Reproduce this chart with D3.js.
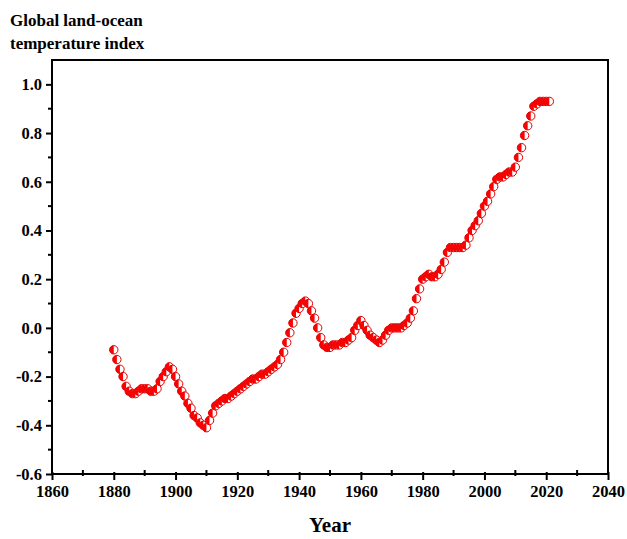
<!DOCTYPE html>
<html>
<head>
<meta charset="utf-8">
<script src="https://cdn.jsdelivr.net/npm/d3@7"></script>
<style>
  body { margin: 0; background: #fff; }
  svg text { font-family: "Liberation Serif", "Times New Roman", serif; font-weight: bold; }
</style>
</head>
<body>
<svg id="chart" width="627" height="539"></svg>
<script>
// annual index, 1880..2021
var years = d3.range(1880, 2022);
var temps = [
  -0.09,-0.13,-0.17,-0.20,-0.24,-0.26,-0.27,-0.27,-0.26,-0.25,
  -0.25,-0.25,-0.26,-0.26,-0.25,-0.22,-0.20,-0.18,-0.16,-0.17,
  -0.20,-0.23,-0.26,-0.28,-0.31,-0.33,-0.36,-0.37,-0.39,-0.40,
  -0.41,-0.38,-0.35,-0.32,-0.31,-0.30,-0.29,-0.29,-0.28,-0.27,
  -0.26,-0.25,-0.24,-0.23,-0.22,-0.21,-0.21,-0.20,-0.19,-0.19,
  -0.18,-0.17,-0.16,-0.15,-0.13,-0.10,-0.06,-0.02,0.02,0.06,
  0.08,0.10,0.11,0.10,0.07,0.04,0.00,-0.04,-0.07,-0.08,
  -0.08,-0.07,-0.07,-0.07,-0.06,-0.06,-0.05,-0.04,-0.01,0.01,
  0.03,0.01,-0.01,-0.03,-0.04,-0.05,-0.06,-0.05,-0.03,-0.01,
  0.00,0.00,0.00,0.00,0.01,0.02,0.04,0.07,0.12,0.16,
  0.20,0.21,0.22,0.21,0.21,0.22,0.24,0.27,0.31,0.33,
  0.33,0.33,0.33,0.33,0.34,0.37,0.40,0.42,0.44,0.47,
  0.50,0.52,0.55,0.58,0.61,0.62,0.62,0.63,0.64,0.64,
  0.66,0.70,0.74,0.79,0.83,0.87,0.91,0.92,0.93,0.93,
  0.93,0.93
];
var xTicks = d3.range(1860, 2041, 20);
var xMinor = d3.range(1870, 2040, 20);
var yTicks = [-0.6, -0.4, -0.2, 0.0, 0.2, 0.4, 0.6, 0.8, 1.0];
var yMinor = [-0.5, -0.3, -0.1, 0.1, 0.3, 0.5, 0.7, 0.9];

var svg = d3.select("#chart");
var m = {left: 52, right: 19, top: 60, bottom: 65};
var W = +svg.attr("width"), H = +svg.attr("height");

var x = d3.scaleLinear().domain([1860, 2040]).range([m.left, W - m.right]);
var y = d3.scaleLinear().domain([-0.6, 1.1]).range([H - m.bottom, m.top]);

// frame
svg.append("rect")
    .attr("x", x(1860)).attr("y", y(1.1))
    .attr("width", x(2040) - x(1860)).attr("height", y(-0.6) - y(1.1))
    .attr("fill", "none").attr("stroke", "#000").attr("stroke-width", 2);

// x axis
var gx = svg.append("g").attr("transform", "translate(0," + y(-0.6) + ")");
gx.call(d3.axisBottom(x).tickValues(xTicks).tickFormat(d3.format("d")).tickSize(6).tickPadding(5));
gx.selectAll(".tick line").attr("stroke-width", 2).attr("y1", -2);
gx.selectAll("text").attr("font-size", 16.5).attr("fill", "#000");
gx.select(".domain").remove();
gx.selectAll(".minor").data(xMinor).enter().append("line")
    .attr("x1", function(d){ return x(d); }).attr("x2", function(d){ return x(d); })
    .attr("y1", -4).attr("y2", 2)
    .attr("stroke", "#000").attr("stroke-width", 2);

// y axis
var gy = svg.append("g").attr("transform", "translate(" + x(1860) + ",0)");
gy.call(d3.axisLeft(y).tickValues(yTicks).tickFormat(d3.format(".1f")).tickSize(6).tickPadding(4));
gy.selectAll(".tick line").attr("stroke-width", 2);
gy.selectAll("text").attr("font-size", 16.5).attr("fill", "#000")
    .text(function(d){ return d3.format(".1f")(d).replace("\u2212", "-"); });
gy.select(".domain").remove();
gy.selectAll(".minor").data(yMinor).enter().append("line")
    .attr("y1", function(d){ return y(d); }).attr("y2", function(d){ return y(d); })
    .attr("x1", -4).attr("x2", 0)
    .attr("stroke", "#000").attr("stroke-width", 2);

// titles
var title = svg.append("text").attr("x", 10).attr("y", 26).attr("font-size", 17);
title.append("tspan").attr("x", 10).text("Global land-ocean");
title.append("tspan").attr("x", 10).attr("dy", 23).text("temperature index");

svg.append("text")
    .attr("x", (x(1860) + x(2040)) / 2).attr("y", 532)
    .attr("text-anchor", "middle").attr("font-size", 21)
    .text("Year");

// half-filled circle markers
var r = 4.2;
var pts = svg.append("g").selectAll("g").data(years).enter().append("g")
    .attr("transform", function(d, i){ return "translate(" + x(d) + "," + y(temps[i]) + ")"; });
pts.append("circle").attr("r", r).attr("fill", "#fff");
pts.append("path")
    .attr("d", "M0," + (-r) + "A" + r + "," + r + " 0 0 0 0," + r + "Z")
    .attr("fill", "#f00");
pts.append("circle").attr("r", r).attr("fill", "none")
    .attr("stroke", "#e00000").attr("stroke-width", 1);
</script>
</body>
</html>
